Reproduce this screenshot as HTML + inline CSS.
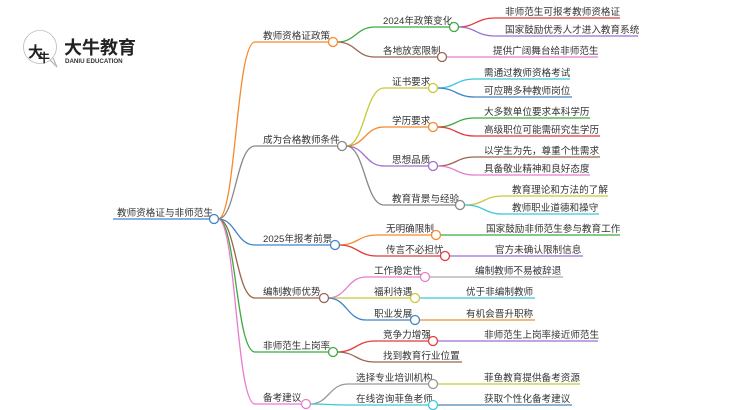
<!DOCTYPE html>
<html><head><meta charset="utf-8"><style>
html,body{margin:0;padding:0;background:#fff;width:750px;height:410px;overflow:hidden}
svg text{font-family:"Liberation Sans","Noto Sans CJK SC",sans-serif;font-size:9.6px;fill:#333}
path{fill:none;stroke-width:1.3}
circle.n{fill:#fff;stroke-width:1.3}
</style></head><body>
<svg width="750" height="410" viewBox="0 0 750 410" xmlns="http://www.w3.org/2000/svg">
<!-- logo -->
<circle cx="40" cy="47" r="16.5" fill="#fff" stroke="#bbb" stroke-width="0.8"/>
<path d="M24 43 A16.5 16.5 0 0 1 56 43 Z" fill="#e02020" stroke="none"/>
<path d="M50 60 L57 67 L53 58" fill="#fff" stroke="#bbb" stroke-width="0.8"/>
<text x="28" y="57" style="font-size:15px;fill:#222;font-weight:bold">大</text>
<text x="38" y="62" style="font-size:12px;fill:#222;font-weight:bold">牛</text>
<text x="64" y="54" style="font-size:18px;font-weight:bold;fill:#222">大牛教育</text>
<text x="65" y="63" style="font-size:6.2px;fill:#333;font-weight:bold">DANIU EDUCATION</text>

<!-- root -->
<path d="M113 219 L210 219" stroke="#3d85c6"/>
<text x="117" y="216">教师资格证与非师范生</text>

<!-- level1 edges -->
<path d="M218 219 C236 219 236 42 255 42 L329 42" stroke="#f58a2c"/>
<path d="M218 219 C236 219 236 146 255 146 L338 146" stroke="#888"/>
<path d="M218 219 C236 219 236 245 255 245 L331 245" stroke="#3d85c6"/>
<path d="M218 219 C236 219 236 298 255 298 L320 298" stroke="#9c6450"/>
<path d="M218 219 C236 219 236 352 255 352 L329 352" stroke="#3caa3c"/>
<path d="M218 219 C236 219 236 404 255 404 L302 404" stroke="#e87ccc"/>
<text x="263" y="39">教师资格证政策</text>
<text x="263" y="143">成为合格教师条件</text>
<text x="263" y="242">2025年报考前景</text>
<text x="263" y="295">编制教师优势</text>
<text x="263" y="349">非师范生上岗率</text>
<text x="263" y="401">备考建议</text>

<!-- policy -->
<path d="M337 42 C356 42 356 27 375 27 L450 27" stroke="#3caa3c"/>
<path d="M337 42 C356 42 356 57 375 57 L438 57" stroke="#9c6450"/>
<text x="383" y="24">2024年政策变化</text>
<text x="383" y="54">各地放宽限制</text>
<path d="M458 27 C476 27 476 18 495 18 L620 18" stroke="#e23b3b"/>
<path d="M458 27 C476 27 476 36 495 36 L638 36" stroke="#9b6fd3"/>
<path d="M446 57 L598 57" stroke="#e87ccc"/>
<text x="505" y="15">非师范生可报考教师资格证</text>
<text x="505" y="33">国家鼓励优秀人才进入教育系统</text>
<text x="493" y="54">提供广阔舞台给非师范生</text>

<!-- conditions -->
<path d="M346 146 C365 146 365 88 384 88 L429 88" stroke="#c8c83a"/>
<path d="M346 146 C365 146 365 127 384 127 L429 127" stroke="#f58a2c"/>
<path d="M346 146 C365 146 365 166 384 166 L429 166" stroke="#9b6fd3"/>
<path d="M346 146 C365 146 365 205 384 205 L456 205" stroke="#888"/>
<text x="392" y="85">证书要求</text>
<text x="392" y="124">学历要求</text>
<text x="392" y="163">思想品质</text>
<text x="392" y="202">教育背景与经验</text>
<path d="M437 88 C456 88 456 79 475 79 L570 79" stroke="#3cc8dc"/>
<path d="M437 88 C456 88 456 97 475 97 L572 97" stroke="#3d85c6"/>
<path d="M437 127 C456 127 456 118 475 118 L590 118" stroke="#3caa3c"/>
<path d="M437 127 C456 127 456 136 475 136 L600 136" stroke="#e23b3b"/>
<path d="M437 166 C456 166 456 157 475 157 L600 157" stroke="#9c6450"/>
<path d="M437 166 C456 166 456 175 475 175 L590 175" stroke="#e87ccc"/>
<path d="M465 205 C484 205 484 196 503 196 L608 196" stroke="#c8c83a"/>
<path d="M465 205 C484 205 484 214 503 214 L599 214" stroke="#3cc8dc"/>
<text x="484" y="76">需通过教师资格考试</text>
<text x="484" y="94">可应聘多种教师岗位</text>
<text x="484" y="115">大多数单位要求本科学历</text>
<text x="484" y="133">高级职位可能需研究生学历</text>
<text x="484" y="154">以学生为先，尊重个性需求</text>
<text x="484" y="172">具备敬业精神和良好态度</text>
<text x="512" y="193">教育理论和方法的了解</text>
<text x="512" y="211">教师职业道德和操守</text>

<!-- 2025 -->
<path d="M339 245 C358 245 358 235 377 235 L432 235" stroke="#f58a2c"/>
<path d="M339 245 C358 245 358 256 377 256 L441 256" stroke="#e23b3b"/>
<text x="386" y="232">无明确限制</text>
<text x="386" y="253">传言不必担忧</text>
<path d="M440 235 L620 235" stroke="#3caa3c"/>
<path d="M449 256 L583 256" stroke="#9b6fd3"/>
<text x="486" y="232">国家鼓励非师范生参与教育工作</text>
<text x="495" y="253">官方未确认限制信息</text>

<!-- 编制 -->
<path d="M328 298 C347 298 347 277 366 277 L421 277" stroke="#e87ccc"/>
<path d="M328 298 L411 298" stroke="#c8c83a"/>
<path d="M328 298 C347 298 347 320 366 320 L411 320" stroke="#3d85c6"/>
<text x="374" y="274">工作稳定性</text>
<text x="374" y="295">福利待遇</text>
<text x="374" y="317">职业发展</text>
<path d="M429 277 L563 277" stroke="#aaa"/>
<path d="M419 298 L535 298" stroke="#3cc8dc"/>
<path d="M419 320 L535 320" stroke="#f58a2c"/>
<text x="475" y="274">编制教师不易被辞退</text>
<text x="466" y="295">优于非编制教师</text>
<text x="466" y="317">有机会晋升职称</text>

<!-- 上岗率 -->
<path d="M337 352 C356 352 356 341 375 341 L429 341" stroke="#e23b3b"/>
<path d="M337 352 C356 352 356 362 375 362 L462 362" stroke="#9c6450"/>
<text x="383" y="338">竞争力增强</text>
<text x="383" y="359">找到教育行业位置</text>
<path d="M437 341 L598 341" stroke="#9b6fd3"/>
<text x="484" y="338">非师范生上岗率接近师范生</text>

<!-- 备考 -->
<path d="M310 404 C329 404 329 384 348 384 L429 384" stroke="#999"/>
<path d="M310 404 C329 404 329 405 348 405 L429 405" stroke="#3cc8dc"/>
<text x="356" y="381">选择专业培训机构</text>
<text x="356" y="402">在线咨询菲鱼老师</text>
<path d="M437 384 L580 384" stroke="#c8c83a"/>
<path d="M437 405 L572 405" stroke="#4a86b8"/>
<text x="484" y="381">菲鱼教育提供备考资源</text>
<text x="484" y="402">获取个性化备考建议</text>

<!-- circles -->
<circle class="n" cx="214" cy="219" r="4.5" stroke="#3d85c6"/>
<circle class="n" cx="333" cy="42" r="4.5" stroke="#f58a2c"/>
<circle class="n" cx="342" cy="146" r="4.5" stroke="#888"/>
<circle class="n" cx="335" cy="245" r="4.5" stroke="#3d85c6"/>
<circle class="n" cx="324" cy="298" r="4.5" stroke="#9c6450"/>
<circle class="n" cx="333" cy="352" r="4.5" stroke="#3caa3c"/>
<circle class="n" cx="306" cy="404" r="4.5" stroke="#e87ccc"/>
<circle class="n" cx="454" cy="27" r="4.5" stroke="#3caa3c"/>
<circle class="n" cx="442" cy="57" r="4.5" stroke="#9c6450"/>
<circle class="n" cx="433" cy="88" r="4.5" stroke="#c8c83a"/>
<circle class="n" cx="433" cy="127" r="4.5" stroke="#f58a2c"/>
<circle class="n" cx="433" cy="166" r="4.5" stroke="#9b6fd3"/>
<circle class="n" cx="460" cy="205" r="4.5" stroke="#888"/>
<circle class="n" cx="436" cy="235" r="4.5" stroke="#f58a2c"/>
<circle class="n" cx="445" cy="256" r="4.5" stroke="#e23b3b"/>
<circle class="n" cx="425" cy="277" r="4.5" stroke="#e87ccc"/>
<circle class="n" cx="415" cy="298" r="4.5" stroke="#c8c83a"/>
<circle class="n" cx="415" cy="320" r="4.5" stroke="#3d85c6"/>
<circle class="n" cx="433" cy="341" r="4.5" stroke="#e23b3b"/>
<circle class="n" cx="433" cy="384" r="4.5" stroke="#999"/>
<circle class="n" cx="433" cy="405" r="4.5" stroke="#3cc8dc"/>
</svg>
</body></html>
